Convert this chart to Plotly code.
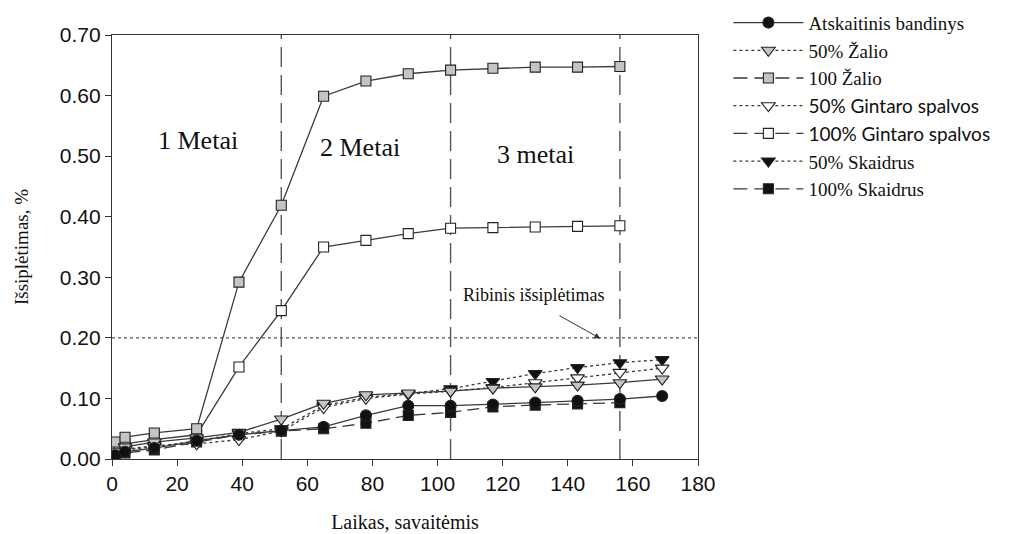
import plotly.graph_objects as go

# Measurement times (weeks)
weeks = [0, 1, 4, 13, 26, 39, 52, 65, 78, 91, 104, 117, 130, 143, 156, 169]
weeks_100 = weeks[:-1]

# Expansion, %
atskaitinis = [0.000, 0.006, 0.012, 0.018, 0.030, 0.040, 0.047, 0.053, 0.072, 0.088, 0.088, 0.090, 0.093, 0.096, 0.099, 0.104]
zalio_50 = [0.000, 0.012, 0.020, 0.028, 0.035, 0.044, 0.066, 0.092, 0.106, 0.109, 0.112, 0.117, 0.119, 0.122, 0.126, 0.132]
zalio_100 = [0.000, 0.028, 0.036, 0.043, 0.050, 0.292, 0.419, 0.599, 0.624, 0.636, 0.642, 0.645, 0.647, 0.647, 0.648]
gintaro_50 = [0.000, 0.010, 0.016, 0.022, 0.025, 0.032, 0.046, 0.085, 0.100, 0.107, 0.112, 0.118, 0.126, 0.134, 0.143, 0.150]
gintaro_100 = [0.000, 0.012, 0.025, 0.032, 0.040, 0.152, 0.245, 0.350, 0.361, 0.372, 0.381, 0.382, 0.383, 0.384, 0.385]
skaidrus_50 = [0.000, 0.008, 0.015, 0.020, 0.030, 0.042, 0.050, 0.088, 0.102, 0.108, 0.116, 0.128, 0.141, 0.151, 0.159, 0.164]
skaidrus_100 = [0.000, 0.005, 0.010, 0.015, 0.028, 0.040, 0.046, 0.050, 0.059, 0.072, 0.077, 0.086, 0.089, 0.091, 0.093]

limit_value = 0.20
year_marks = [52, 104, 156]
year_labels = ["1 Metai", "2 Metai", "3 metai"]
year_label_x = [26.5, 76.3, 130]
year_label_y = [0.526, 0.515, 0.502]

x_ticks = list(range(0, 181, 20))
y_ticks = [0.0, 0.1, 0.2, 0.3, 0.4, 0.5, 0.6, 0.7]

LINE = "#3a3a3a"
GRAY = "#c4c4c4"
SERIF = "Liberation Serif, Times New Roman, serif"
SANS = "Liberation Sans, Arial, sans-serif"

# (name, x, y, plot dash, legend dash, symbol, fill, size)
series = [
    ("Atskaitinis bandinys", weeks, atskaitinis, "solid", "solid", "circle", "#111111", 11),
    ("50% Žalio", weeks, zalio_50, "solid", "dot", "triangle-down", GRAY, 12),
    ("100 Žalio", weeks_100, zalio_100, "solid", "14px,7px", "square", GRAY, 10),
    ("<span style='font-family:Lato'>50% Gintaro spalvos</span>", weeks, gintaro_50, "dot", "dot", "triangle-down", "white", 12),
    ("<span style='font-family:Lato'>100% Gintaro spalvos</span>", weeks_100, gintaro_100, "solid", "14px,7px", "square", "white", 10),
    ("50% Skaidrus", weeks, skaidrus_50, "dot", "dot", "triangle-down", "#111111", 12),
    ("100% Skaidrus", weeks_100, skaidrus_100, "12px,6px", "14px,7px", "square", "#111111", 10),
]

fig = go.Figure()

# threshold line
fig.add_trace(go.Scatter(x=[0, 180], y=[limit_value, limit_value], mode="lines",
                         line=dict(color="#555555", width=1.2, dash="dot"),
                         showlegend=False, hoverinfo="skip"))

# year boundaries
for xm in year_marks:
    fig.add_trace(go.Scatter(x=[xm, xm], y=[0, 0.70], mode="lines",
                             line=dict(color="#555555", width=1.4, dash="20px,8px"),
                             showlegend=False, hoverinfo="skip"))

# data series (drawn in reverse so the reference sample sits on top)
for name, xs, ys, pdash, ldash, sym, fill, size in reversed(series):
    fig.add_trace(go.Scatter(
        x=xs, y=ys, mode="lines+markers", showlegend=False,
        line=dict(color=LINE, width=1.3, dash=pdash),
        marker=dict(symbol=sym, size=size, color=fill, line=dict(color="#222222", width=1.1)),
    ))

# legend entries
for name, xs, ys, pdash, ldash, sym, fill, size in series:
    fig.add_trace(go.Scatter(
        x=[None], y=[None], mode="lines+markers", name=name,
        line=dict(color=LINE, width=1.3, dash=ldash),
        marker=dict(symbol=sym, size=size, color=fill, line=dict(color="#222222", width=1.1)),
    ))

for txt, lx, ly in zip(year_labels, year_label_x, year_label_y):
    fig.add_annotation(x=lx, y=ly, text=txt, showarrow=False,
                       font=dict(family=SERIF, size=26, color="#111111"))

fig.add_annotation(x=150, y=0.199, ax=137, ay=0.238, xref="x", yref="y", axref="x", ayref="y",
                   text="", showarrow=True, arrowhead=2, arrowsize=1.2, arrowwidth=1,
                   arrowcolor="#333333")
fig.add_annotation(x=129.5, y=0.27, text="Ribinis išsiplėtimas", showarrow=False,
                   font=dict(family=SERIF, size=18, color="#111111"))

fig.update_layout(
    width=1023, height=534,
    margin=dict(l=112, r=325, t=35, b=75, autoexpand=False),
    paper_bgcolor="white", plot_bgcolor="white",
    font=dict(family=SANS, color="#111111"),
    legend=dict(xref="container", yref="container", x=0.712, y=0.993,
                xanchor="left", yanchor="top",
                font=dict(family=SERIF, size=19, color="#111111"),
                itemwidth=70, tracegroupgap=0, bgcolor="rgba(0,0,0,0)"),
    xaxis=dict(range=[0, 180], tickvals=x_ticks, ticks="outside", ticklen=6,
               tickcolor="#333333", showline=True, linecolor="#333333", linewidth=1.2,
               mirror=True, showgrid=False, zeroline=False,
               tickfont=dict(family=SANS, size=21),
               title=dict(text="Laikas, savaitėmis", font=dict(family=SERIF, size=20), standoff=20)),
    yaxis=dict(range=[0, 0.70], tickvals=y_ticks, tickformat=".2f", ticks="outside", ticklen=6,
               tickcolor="#333333", showline=True, linecolor="#333333", linewidth=1.2,
               mirror=True, showgrid=False, zeroline=False,
               tickfont=dict(family=SANS, size=21),
               title=dict(text="Išsiplėtimas, %", font=dict(family=SERIF, size=19), standoff=26)),
)

fig.write_html("out.html")
